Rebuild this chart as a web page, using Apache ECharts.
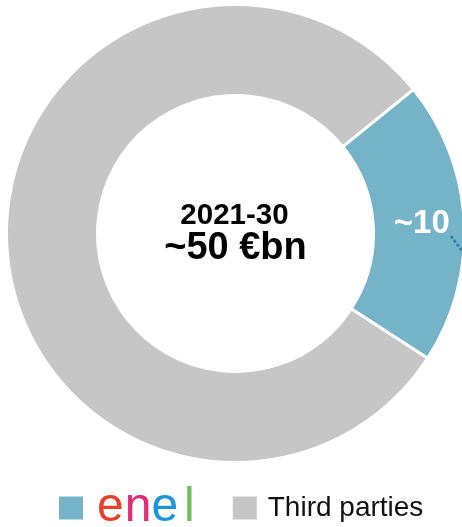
<!DOCTYPE html>
<html>
<head>
<meta charset="utf-8">
<script src="https://cdn.jsdelivr.net/npm/echarts@6/dist/echarts.min.js"></script>
<style>
  html, body { margin: 0; padding: 0; background: #fff; }
  #chart { width: 462px; height: 527px; }
</style>
</head>
<body>
<div id="chart"></div>
<script>
// Investment split 2021-30 (€bn)
const categories = ['enel', 'Third parties'];
const values = [10, 40];
const sliceLabels = ['~10', ''];
const periodLabel = '2021-30';
const totalLabel = '~50 €bn';
const colors = ['#75b3c8', '#c6c6c6'];

const chart = echarts.init(document.getElementById('chart'), null, { renderer: 'canvas' });

const cx = 235.5, cy = 233.5;
const logoFont = 'Liberation Sans, Arial, sans-serif';

chart.setOption({
  animation: false,
  color: colors,
  legend: {
    data: categories,
    left: 57,
    top: 484,
    padding: 0,
    icon: 'rect',
    itemWidth: 26,
    itemHeight: 25,
    itemGap: 36,
    selectedMode: false,
    formatter: function (name) {
      return name === 'enel' ? '{a|e}{b|n}{c|e}{d|l}' : name;
    },
    textStyle: {
      fontFamily: 'Liberation Sans, Arial, sans-serif',
      fontSize: 28,
      color: '#111',
      padding: [0, 0, 0, 5],
      rich: {
        a: { fontSize: 48, color: '#e5422b', fontFamily: logoFont, padding: [0, 1, 0, 3] },
        b: { fontSize: 48, color: '#e02d74', fontFamily: logoFont, padding: [0, 0, 0, 0] },
        c: { fontSize: 48, color: '#1a95d8', fontFamily: logoFont, padding: [0, 0, 0, 0] },
        d: { fontSize: 48, color: '#6cbf5a', fontFamily: logoFont, padding: [0, 0, 0, 6] }
      }
    }
  },
  series: [{
    type: 'pie',
    center: [cx, cy],
    radius: [138, 229],
    startAngle: 39,
    clockwise: true,
    avoidLabelOverlap: false,
    itemStyle: { borderColor: '#fff', borderWidth: 3 },
    label: {
      show: true,
      position: 'inside',
      formatter: function (p) { return sliceLabels[p.dataIndex]; },
      color: '#fff',
      fontFamily: 'Liberation Sans, Arial, sans-serif',
      fontWeight: 'bold',
      fontSize: 33
    },
    labelLine: { show: false },
    emphasis: { disabled: true },
    data: categories.map((c, i) => ({ name: c, value: values[i] }))
  }],
  graphic: [
    {
      type: 'text',
      x: cx - 1, y: 216,
      style: {
        text: periodLabel,
        fill: '#000',
        font: 'bold 29.5px "Liberation Sans", Arial, sans-serif',
        textAlign: 'center',
        textVerticalAlign: 'middle'
      }
    },
    {
      type: 'text',
      x: cx, y: 249,
      style: {
        text: totalLabel,
        fill: '#000',
        font: 'bold 38px "Liberation Sans", Arial, sans-serif',
        textAlign: 'center',
        textVerticalAlign: 'middle'
      }
    },
    {
      // short dashed leader leaving the label towards the right
      type: 'polyline',
      z: 100,
      shape: { points: [[451, 236], [462, 251]] },
      style: { stroke: '#2a7f9e', lineWidth: 2.5, lineDash: [3, 2], fill: null }
    }
  ]
});
</script>
</body>
</html>
